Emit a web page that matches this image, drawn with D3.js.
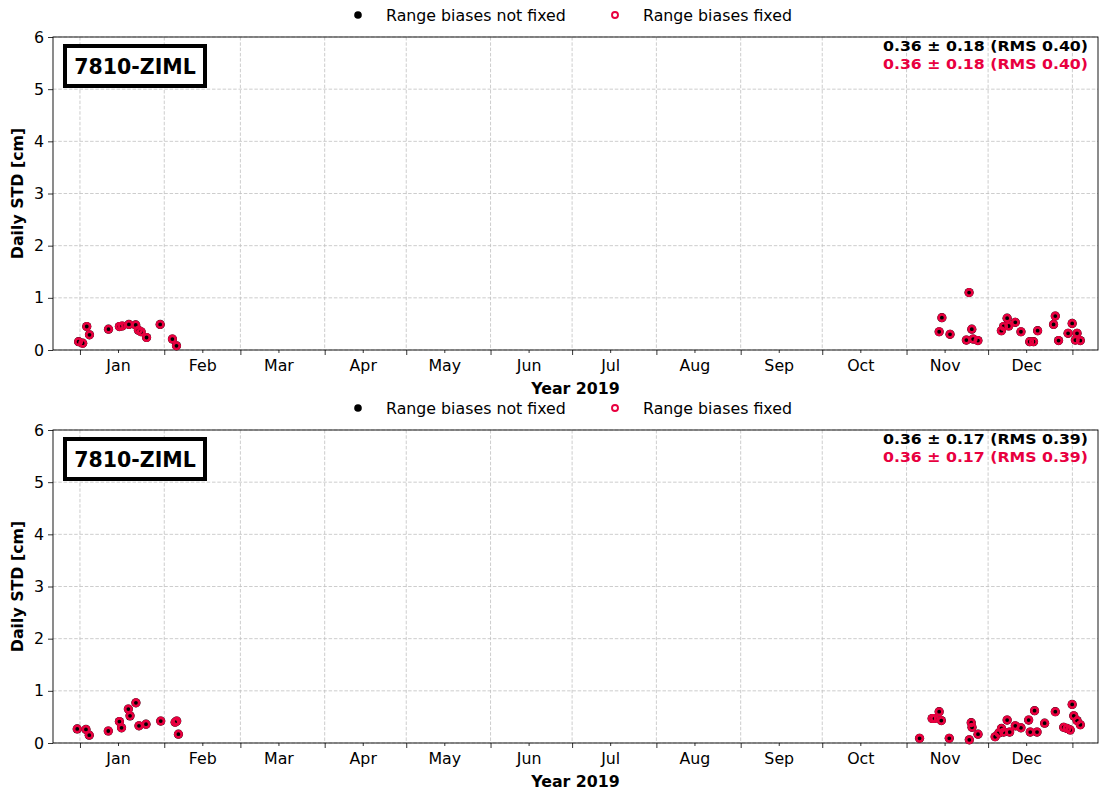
<!DOCTYPE html>
<html><head><meta charset="utf-8">
<script src="https://cdn.jsdelivr.net/npm/d3@7"></script>
<style>body{margin:0;background:#fff}svg{display:block;font-family:"DejaVu Sans",sans-serif}</style>
</head><body><svg id="c" width="1100" height="793"></svg>
<script>
// ---- data ----
const stationLabel = "7810-ZIML";
const xLabel = "Year 2019";
const yLabel = "Daily STD [cm]";
const legendLabels = ["Range biases not fixed", "Range biases fixed"];
const yTicks = [0,1,2,3,4,5,6];
const monthLabels = ["Jan","Feb","Mar","Apr","May","Jun","Jul","Aug","Sep","Oct","Nov","Dec"];

const topDates = ["2018-12-31 12","2019-01-02 00","2019-01-03 12","2019-01-04 12","2019-01-11 12","2019-01-15 12","2019-01-16 12","2019-01-19 00","2019-01-21 12","2019-01-22 12","2019-01-23 12","2019-01-25 12","2019-01-30 12","2019-02-04 00","2019-02-05 12",
 "2019-11-13 00","2019-11-14 00","2019-11-17 00","2019-11-23 00","2019-11-24 00","2019-11-25 00","2019-11-25 12","2019-11-27 06","2019-12-05 21","2019-12-06 17","2019-12-08 00","2019-12-08 14","2019-12-11 00","2019-12-13 02","2019-12-16 07","2019-12-17 17","2019-12-19 05","2019-12-25 02","2019-12-25 17","2019-12-26 22","2019-12-30 10","2019-12-31 22","2020-01-02 02","2020-01-02 17","2020-01-03 22"];
const topNotFixed = [0.16,0.13,0.45,0.29,0.40,0.45,0.46,0.49,0.48,0.38,0.35,0.24,0.49,0.21,0.08,
 0.35,0.62,0.30,0.19,1.10,0.40,0.21,0.18,0.37,0.45,0.61,0.46,0.53,0.35,0.16,0.16,0.37,0.49,0.65,0.18,0.32,0.51,0.19,0.32,0.18];
const topFixed = [0.16,0.13,0.45,0.29,0.40,0.45,0.46,0.49,0.48,0.38,0.35,0.24,0.49,0.21,0.08,
 0.35,0.62,0.30,0.19,1.10,0.40,0.21,0.18,0.37,0.45,0.61,0.46,0.53,0.35,0.16,0.16,0.37,0.49,0.65,0.18,0.32,0.51,0.19,0.32,0.18];
const topStats = ["0.36 \u00b1 0.18 (RMS 0.40)", "0.36 \u00b1 0.18 (RMS 0.40)"];

const botDates = ["2018-12-31 00","2019-01-03 05","2019-01-04 10","2019-01-11 10","2019-01-15 12","2019-01-16 07","2019-01-18 19","2019-01-19 10","2019-01-21 14","2019-01-22 17","2019-01-25 07","2019-01-30 17","2019-02-05 00","2019-02-05 14","2019-02-06 05",
 "2019-11-05 19","2019-11-10 10","2019-11-11 07","2019-11-13 00","2019-11-13 19","2019-11-16 17","2019-11-24 02","2019-11-24 19","2019-11-25 02","2019-11-27 07","2019-12-03 14","2019-12-04 22","2019-12-05 22","2019-12-06 17","2019-12-08 00","2019-12-08 22","2019-12-11 00","2019-12-13 02","2019-12-15 22","2019-12-16 12","2019-12-18 02","2019-12-19 00","2019-12-21 19","2019-12-25 17","2019-12-28 19","2019-12-30 00","2019-12-31 05","2019-12-31 22","2020-01-01 12","2020-01-02 17","2020-01-03 22"];
const botNotFixed = [0.27,0.26,0.15,0.23,0.41,0.29,0.65,0.52,0.77,0.33,0.36,0.42,0.40,0.42,0.17,
 0.09,0.47,0.47,0.60,0.43,0.09,0.06,0.39,0.30,0.17,0.12,0.19,0.28,0.21,0.44,0.21,0.33,0.29,0.44,0.21,0.62,0.21,0.38,0.60,0.30,0.28,0.25,0.74,0.52,0.43,0.35];
const botFixed = [0.27,0.26,0.15,0.23,0.41,0.29,0.65,0.52,0.77,0.33,0.36,0.42,0.40,0.42,0.17,
 0.09,0.47,0.47,0.60,0.43,0.09,0.06,0.39,0.30,0.17,0.12,0.19,0.28,0.21,0.44,0.21,0.33,0.29,0.44,0.21,0.62,0.21,0.38,0.60,0.30,0.28,0.25,0.74,0.52,0.43,0.35];
const botStats = ["0.36 \u00b1 0.17 (RMS 0.39)", "0.36 \u00b1 0.17 (RMS 0.39)"];

const xDomain = ["2018-12-22 02","2020-01-10 10"];

// ---- drawing ----
const RED = "#e8003f";
const FS = "15.8px";
const parse = d3.timeParse("%Y-%m-%d %H");
const svg = d3.select("#c");
svg.append("rect").attr("width",1100).attr("height",793).attr("fill","#fff");

const x = d3.scaleTime().domain(xDomain.map(parse)).range([53,1098]);
const majors = d3.timeMonth.range(x.domain()[0], x.domain()[1]).filter(d=>d>x.domain()[0]);
const minors = majors.map(d=>new Date(d.getFullYear(), d.getMonth(), 15)).filter(d=>d<x.domain()[1]);

function panel(top, dates, notFixed, fixed, stats){
  const bottom = top + 313;
  const y = d3.scaleLinear().domain([0,6]).range([bottom, top]);
  const g = svg.append("g");
  // grid
  g.append("g").selectAll("line").data(majors).join("line")
    .attr("x1",d=>x(d)).attr("x2",d=>x(d)).attr("y1",top).attr("y2",bottom)
    .attr("stroke","#c0c0c0").attr("stroke-width",0.8).attr("stroke-dasharray","3.5,1.8");
  g.append("g").selectAll("line").data(yTicks).join("line")
    .attr("x1",53).attr("x2",1098).attr("y1",d=>y(d)).attr("y2",d=>y(d))
    .attr("stroke","#c0c0c0").attr("stroke-width",0.8).attr("stroke-dasharray","3.5,1.8");
  // axes
  const yAx = g.append("g").attr("transform","translate(53,0)")
    .call(d3.axisLeft(y).tickValues(yTicks).tickFormat(d3.format("d")).tickSize(5).tickPadding(4));
  const xMaj = g.append("g").attr("transform",`translate(0,${bottom})`)
    .call(d3.axisBottom(x).tickValues(majors).tickFormat("").tickSize(5));
  const xMin = g.append("g").attr("transform",`translate(0,${bottom})`)
    .call(d3.axisBottom(x).tickValues(minors).tickFormat((d,i)=>monthLabels[d.getMonth()]).tickSize(3).tickPadding(7));
  [yAx,xMaj,xMin].forEach(a=>{
    a.selectAll("text").attr("font-size",FS).attr("fill","#000").attr("font-family","DejaVu Sans");
    a.selectAll(".domain").remove();
    a.selectAll("line").attr("stroke","#000").attr("stroke-width",0.8);
  });
  // frame
  g.append("rect").attr("x",53).attr("y",top).attr("width",1045).attr("height",313)
    .attr("fill","none").attr("stroke","#000").attr("stroke-width",0.9);
  // points
  const pts = dates.map((d,i)=>({t:parse(d), a:notFixed[i], b:fixed[i]}));
  g.append("g").selectAll("circle").data(pts).join("circle")
    .attr("cx",d=>x(d.t)).attr("cy",d=>y(d.a)).attr("r",4.6).attr("fill","#000");
  g.append("g").selectAll("circle").data(pts).join("circle")
    .attr("cx",d=>x(d.t)).attr("cy",d=>y(d.b)).attr("r",3.2).attr("fill","none")
    .attr("stroke",RED).attr("stroke-width",2.6);
  // labels
  g.append("text").attr("x",575.5).attr("y",bottom+44).attr("text-anchor","middle")
    .attr("font-weight","bold").attr("font-size",FS).text(xLabel);
  g.append("text").attr("transform",`translate(23,${(top+bottom)/2}) rotate(-90)`).attr("text-anchor","middle")
    .attr("font-weight","bold").attr("font-size",FS).text(yLabel);
  // station box
  g.append("rect").attr("x",65).attr("y",top+9).attr("width",140).attr("height",40)
    .attr("fill","#fff").attr("stroke","#000").attr("stroke-width",4);
  g.append("text").attr("x",135).attr("y",top+37).attr("text-anchor","middle")
    .attr("font-weight","bold").attr("font-size","20.5px").text(stationLabel);
  // stats (tight two-line block)
  g.append("text").attr("x",1088).attr("y",top+14).attr("text-anchor","end")
    .attr("font-weight","bold").attr("font-size","14.8px").attr("fill","#000")
    .attr("textLength",205).attr("lengthAdjust","spacingAndGlyphs").text(stats[0]);
  g.append("text").attr("x",1088).attr("y",top+31.5).attr("text-anchor","end")
    .attr("font-weight","bold").attr("font-size","14.8px").attr("fill",RED)
    .attr("textLength",205).attr("lengthAdjust","spacingAndGlyphs").text(stats[1]);
  // legend
  const ly = top - 22;
  g.append("circle").attr("cx",358).attr("cy",ly).attr("r",3.8).attr("fill","#000");
  g.append("text").attr("x",386).attr("y",ly+5.5).attr("font-size",FS).text(legendLabels[0]);
  g.append("circle").attr("cx",615).attr("cy",ly).attr("r",3).attr("fill","none").attr("stroke",RED).attr("stroke-width",1.9);
  g.append("text").attr("x",643).attr("y",ly+5.5).attr("font-size",FS).text(legendLabels[1]);
}
panel(37, topDates, topNotFixed, topFixed, topStats);
panel(430, botDates, botNotFixed, botFixed, botStats);
</script></body></html>
